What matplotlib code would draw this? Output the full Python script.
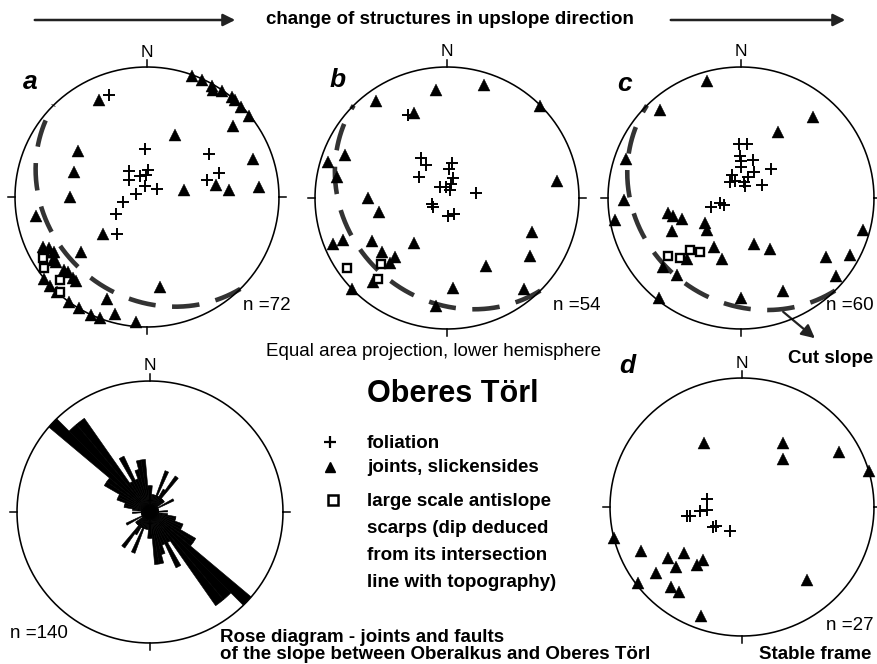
import numpy as np
import matplotlib
matplotlib.use("Agg")
import matplotlib.pyplot as plt

plt.rcParams["font.family"] = ["Liberation Sans", "DejaVu Sans"]

# poles as (trend, plunge) in degrees, equal area lower hemisphere
a_joints = [(20, 1), (25, 1), (30, 2), (31, 4), (35, 1), (40, 0), (42, 0), (46, 1), (51, 1),
            (50, 16), (24, 47), (70, 16), (334, 18), (304, 37), (289, 41), (270, 41),
            (79, 67), (80, 46), (85, 38), (85, 16), (260, 16),
            (244, 13), (242, 17), (241, 13), (239, 19), (236, 15), (234, 16), (228, 17),
            (226, 18), (222, 17), (220, 17),
            (231, 0), (227, 0), (223, 0), (216, 0), (211, 0), (205, 0), (201, 0),
            (230, 35), (229, 54), (172, 31), (201, 17), (195, 8), (185, 4)]
a_foliation = [(340, 18), (358, 60), (326, 70), (342, 76), (3, 73), (357, 76), (314, 75),
               (349, 83), (288, 83), (52, 82), (259, 75), (241, 68), (219, 60), (55, 42),
               (71, 42), (74, 51)]
a_scarps = [(239, 9), (235, 5), (226, 9), (222, 2)]

b_joints = [(18, 10), (354, 18), (324, 9), (339, 31), (45, 1), (293, 17), (287, 6), (281, 16),
            (270, 40), (258, 46), (81, 17), (112, 31), (125, 24), (248, 8), (248, 16),
            (240, 35), (216, 55), (230, 36), (221, 40), (221, 35), (150, 40), (176, 32),
            (140, 10), (226, 0), (221, 16), (186, 18)]
b_foliation = [(335, 31), (327, 60), (328, 66), (307, 68), (8, 68), (3, 72), (16, 77),
               (329, 82), (353, 83), (15, 81), (21, 85), (81, 72), (249, 80), (238, 80),
               (176, 79), (158, 79)]
b_scarps = [(235, 8), (225, 30), (220, 20)]

c_joints = [(344, 8), (318, 10), (41, 19), (29, 42), (289, 9), (269, 13), (260, 4), (258, 43),
            (255, 46), (250, 51), (244, 42), (234, 63), (227, 61), (105, 6), (209, 55),
            (164, 60), (151, 53), (197, 50), (125, 23), (118, 8), (130, 8), (228, 22),
            (219, 25), (156, 23), (180, 25), (219, 2), (221, 38)]
c_foliation = [(358, 56), (6, 56), (358, 64), (0, 67), (17, 65), (0, 71), (46, 64), (339, 75),
               (325, 78), (339, 79), (10, 80), (19, 76), (27, 72), (17, 82), (57, 75),
               (252, 71), (257, 77), (248, 79)]
c_scarps = [(231, 30), (225, 35), (224, 44), (217, 47)]

d_joints = [(330, 42), (32, 41), (40, 50), (60, 16), (74, 0), (256, 0), (246, 17), (235, 32),
            (231, 43), (216, 48), (217, 43), (227, 32), (232, 18), (233, 2), (221, 19),
            (216, 20), (200, 11), (139, 26)]
d_foliation = [(283, 68), (265, 64), (265, 68), (261, 55), (260, 57), (234, 68), (233, 70),
               (206, 73)]

# slope plane (dip direction, dip), dashed great circle
slope_a = (225, 26)
slope_b = (225, 25)
slope_c = (225, 24)

# rose diagram: strike counts in 5 degree bins from 0 to 180 (n = 140)
rose_bins = np.arange(0, 180, 5)
rose_counts = [3, 2, 2, 2, 5, 2, 3, 5, 2, 2, 2, 1, 3, 1, 1, 1, 1, 2, 1, 2,
               3, 3, 4, 4, 6, 6, 15, 13, 13, 4, 7, 4, 5, 6, 6, 3]
rose_max = 15

W, H = 877, 664
fig = plt.figure(figsize=(W / 100, H / 100), dpi=100)

ov = fig.add_axes([0, 0, 1, 1])
ov.set_xlim(0, W)
ov.set_ylim(H, 0)
ov.axis("off")


def project(poles):
    t = np.radians([p[0] for p in poles])
    pl = np.radians([p[1] for p in poles])
    r = np.sqrt(2) * np.sin((np.pi / 2 - pl) / 2)
    return r * np.sin(t), r * np.cos(t)


def great_circle(dip_dir, dip):
    dd, d = np.radians(dip_dir), np.radians(dip)
    s = dd - np.pi / 2
    sv = np.array([np.sin(s), np.cos(s), 0.0])
    dv = np.array([np.cos(d) * np.sin(dd), np.cos(d) * np.cos(dd), -np.sin(d)])
    t = np.linspace(0, np.pi, 300)
    v = np.outer(np.cos(t), sv) + np.outer(np.sin(t), dv)
    pl = np.arcsin(np.clip(-v[:, 2], -1, 1))
    tr = np.arctan2(v[:, 0], v[:, 1])
    r = np.sqrt(2) * np.sin((np.pi / 2 - pl) / 2)
    return r * np.sin(tr), r * np.cos(tr)


def net_axes(cx, cy, rx, ry):
    pad = 1.15
    ax = fig.add_axes([(cx - pad * rx) / W, 1 - (cy + pad * ry) / H,
                       2 * pad * rx / W, 2 * pad * ry / H])
    ax.set_xlim(-pad, pad)
    ax.set_ylim(-pad, pad)
    ax.axis("off")
    th = np.linspace(0, 2 * np.pi, 400)
    ax.plot(np.cos(th), np.sin(th), color="black", lw=1.15, zorder=2)
    tx, ty = 7 / rx, 7 / ry
    ax.plot([0, 0], [1, 1 + ty], color="black", lw=1.1)
    ax.plot([0, 0], [-1, -1 - ty], color="black", lw=1.1)
    ax.plot([1, 1 + tx], [0, 0], color="black", lw=1.1)
    ax.plot([-1, -1 - tx], [0, 0], color="black", lw=1.1)
    ax.text(0, 1 + 15 / ry, "N", ha="center", va="center", fontsize=12.5)
    return ax


def plot_net(ax, joints, foliation, scarps=None, slope=None):
    if slope is not None:
        x, y = great_circle(*slope)
        ax.plot(x, y, color="#333333", lw=3.3, ls=(0, (6, 3.6)),
                dash_capstyle="butt", zorder=1)
    x, y = project(joints)
    ax.plot(x, y, "^", ms=8.5, color="black", mew=0.3, zorder=3)
    x, y = project(foliation)
    ax.plot(x, y, "+", ms=8, color="black", mew=1.4, zorder=3)
    if scarps is not None:
        x, y = project(scarps)
        ax.plot(x, y, "s", ms=6.2, mfc="white", mec="black", mew=1.7, zorder=4)


ax_a = net_axes(147, 197, 132, 130)
plot_net(ax_a, a_joints, a_foliation, a_scarps, slope_a)
ax_b = net_axes(447, 198, 132, 131)
plot_net(ax_b, b_joints, b_foliation, b_scarps, slope_b)
ax_c = net_axes(741, 198, 133, 131)
plot_net(ax_c, c_joints, c_foliation, c_scarps, slope_c)
ax_d = net_axes(742, 507, 132, 129)
plot_net(ax_d, d_joints, d_foliation)

# rose diagram
net_axes(150, 512, 133, 131)
R = 132
ax_r = fig.add_axes([(150 - R) / W, 1 - (512 + R) / H, 2 * R / W, 2 * R / H],
                    projection="polar")
ax_r.set_theta_zero_location("N")
ax_r.set_theta_direction(-1)
centers = np.radians(rose_bins + 2.5)
for off in (0, np.pi):
    ax_r.bar(centers + off, rose_counts, width=np.radians(5), color="black",
             edgecolor="black", linewidth=0.4)
ax_r.set_ylim(0, rose_max)
ax_r.grid(False)
ax_r.set_xticks([])
ax_r.set_yticks([])
ax_r.spines["polar"].set_visible(False)
ax_r.patch.set_alpha(0)

# header arrows and text
arrow = dict(arrowstyle="-|>", lw=1.8, color="#222222", mutation_scale=18)
ov.annotate("", xy=(238, 20), xytext=(32, 20), arrowprops=arrow)
ov.annotate("", xy=(848, 20), xytext=(668, 20), arrowprops=arrow)
ov.text(450, 20, "change of structures in upslope direction", ha="center", va="center",
        fontsize=13.5, fontweight="bold")

for letter, x, y in [("a", 30, 82), ("b", 338, 80), ("c", 625, 84), ("d", 627, 366)]:
    ov.text(x, y, letter, ha="center", va="center", fontsize=19,
            fontweight="bold", fontstyle="italic")

for label, x, y in [("n =72", 243, 306), ("n =54", 553, 306), ("n =60", 826, 306),
                    ("n =140", 10, 633), ("n =27", 826, 625)]:
    ov.text(x, y, label, ha="left", va="center", fontsize=13.5)

ov.text(434, 352, "Equal area projection, lower hemisphere", ha="center", va="center",
        fontsize=13.5)
ov.text(453, 394, "Oberes Törl", ha="center", va="center", fontsize=22, fontweight="bold")

# legend
ov.plot(330, 442, "+", ms=8, color="black", mew=1.6)
ov.plot(330, 467, "^", ms=6.5, color="black")
ov.plot(333, 500, "s", ms=6.5, mfc="white", mec="black", mew=1.8)
legend_lines = [("foliation", 448), ("joints, slickensides", 472),
                ("large scale antislope", 506), ("scarps (dip deduced", 533),
                ("from its intersection", 560), ("line with topography)", 587)]
for txt, y in legend_lines:
    ov.text(367, y, txt, ha="left", va="baseline", fontsize=13.5, fontweight="bold")

ov.text(220, 642, "Rose diagram - joints and faults", ha="left", va="baseline",
        fontsize=13.5, fontweight="bold")
ov.text(220, 659, "of the slope between Oberalkus and Oberes Törl", ha="left",
        va="baseline", fontsize=13.5, fontweight="bold")

ov.annotate("", xy=(817, 340), xytext=(781, 310),
            arrowprops=dict(arrowstyle="-|>", lw=1.6, color="#222222", mutation_scale=20))
ov.text(788, 363, "Cut slope", ha="left", va="baseline", fontsize=13.5, fontweight="bold")
ov.text(759, 659, "Stable frame", ha="left", va="baseline", fontsize=13.5, fontweight="bold")

fig.savefig("out.png", dpi=100)
